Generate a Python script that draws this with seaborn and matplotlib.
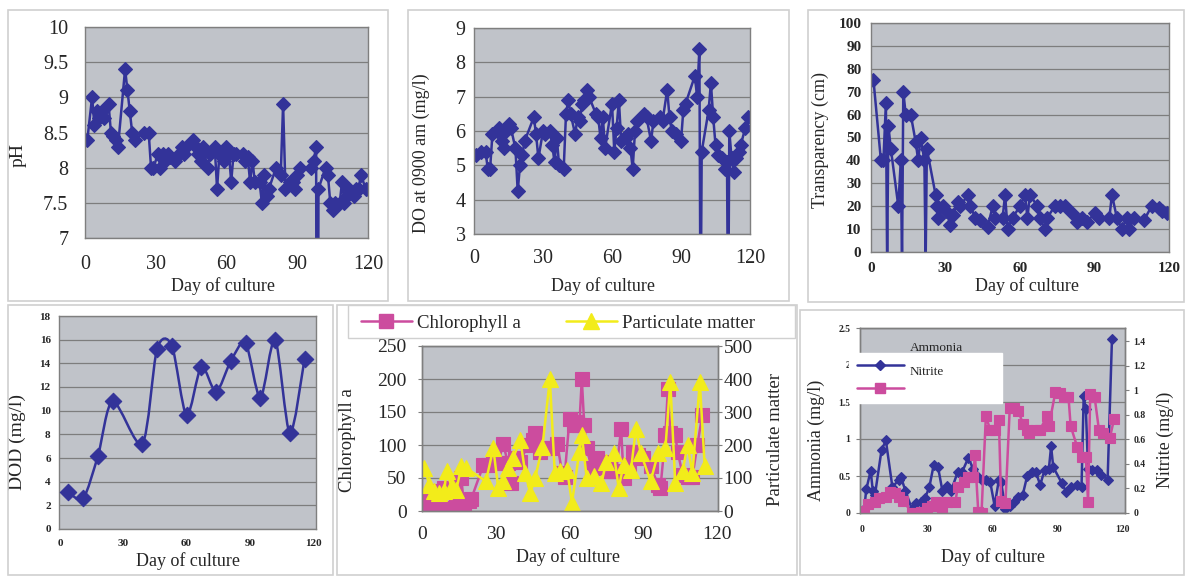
import numpy as np
import matplotlib
matplotlib.use("Agg")
import matplotlib.pyplot as plt
import matplotlib.transforms as mtransforms
from matplotlib.patches import Rectangle, PathPatch
from matplotlib.path import Path
from matplotlib.lines import Line2D
from matplotlib.ticker import FuncFormatter
import seaborn as sns

sns.set_style("white")
plt.rcParams["font.family"] = ["Liberation Serif", "DejaVu Serif"]

# ---- data ----
ph_day = [1, 3, 4, 5, 6, 7, 8, 10, 11, 12, 13, 14, 17, 18, 19, 20, 21, 25, 27, 28,
          29, 31, 32, 33, 34, 35, 36, 38, 40, 41, 42, 43, 46, 47, 48, 49, 50, 52, 53, 55,
          56, 57, 59, 60, 61, 62, 63, 64, 67, 68, 69, 70, 71, 72, 74, 75, 76, 77, 78, 81,
          83, 84, 85, 87, 88, 89, 90, 91, 96, 97, 98, 98.5, 99, 102, 103, 104, 105, 106, 108, 109,
          110, 111, 112, 114, 115, 116, 117, 119, 120]
ph_val = [8.4, 9.0, 8.6, 8.8, 8.7, 8.8, 8.7, 8.9, 8.5, 8.45, 8.4, 8.3, 9.4, 9.1, 8.8, 8.5, 8.4, 8.5, 8.5, 8.0,
          8.0, 8.2, 8.0, 8.2, 8.1, 8.2, 8.15, 8.1, 8.2, 8.3, 8.2, 8.3, 8.4, 8.3, 8.2, 8.1, 8.3, 8.0, 8.2, 8.3,
          7.7, 8.2, 8.1, 8.3, 8.2, 7.8, 8.2, 8.2, 8.2, 8.1, 8.15, 7.8, 8.1, 7.8, 7.8, 7.5, 7.9, 7.6, 7.7, 8.0,
          7.9, 8.9, 7.7, 7.8, 7.8, 7.7, 7.9, 8.0, 8.0, 8.1, 8.3, 0.0, 7.7, 8.0, 7.9, 7.5, 7.4, 7.5, 7.5, 7.8,
          7.5, 7.6, 7.7, 7.6, 7.7, 7.7, 7.9, 7.7, 7.7]

do_day = [1, 3, 5, 6, 7, 8, 10, 11, 12, 13, 14, 15, 16, 18, 19, 20, 21, 22, 26, 27,
          28, 30, 31, 33, 34, 35, 36, 37, 39, 40, 41, 42, 44, 45, 46, 47, 48, 49, 50, 53,
          54, 55, 56, 57, 60, 61, 62, 63, 64, 66, 67, 68, 69, 70, 71, 74, 75, 77, 78, 81,
          82, 84, 85, 86, 88, 90, 91, 92, 96, 97, 98, 98.5, 99, 102, 103, 104, 105, 106, 108, 109,
          110, 110.5, 111, 112, 113, 114, 115, 116, 118, 119]
do_val = [5.3, 5.4, 5.4, 4.9, 4.9, 5.9, 6.0, 6.1, 5.7, 5.5, 6.0, 6.2, 6.1, 5.5, 4.25, 5.0, 5.3, 5.7, 6.4, 5.9,
          5.2, 6.0, 5.9, 6.0, 5.6, 5.1, 5.8, 5.0, 4.9, 6.5, 6.9, 6.5, 5.9, 6.4, 6.3, 6.8, 6.9, 7.2, 7.0, 6.5,
          6.4, 5.8, 6.4, 5.5, 6.8, 5.4, 6.1, 6.9, 5.7, 5.8, 5.9, 5.5, 4.9, 6.0, 6.3, 6.5, 6.4, 5.7, 6.3, 6.4,
          6.3, 7.2, 6.4, 6.0, 5.9, 5.7, 6.6, 6.8, 7.6, 7.0, 8.4, 0.0, 5.4, 6.6, 7.4, 6.4, 5.6, 5.3, 5.2, 4.9,
          5.1, 0.0, 6.0, 5.2, 4.8, 5.2, 5.4, 5.6, 6.1, 6.4]

tr_day = [1, 4, 5, 6, 6.5, 7, 8, 11, 12, 12.5, 13, 14, 16, 18, 19, 20, 21.5, 22, 22.5, 26,
          26.5, 27, 29, 30, 32, 33, 35, 36, 39, 40, 42, 44, 47, 49, 50, 53, 54, 55, 57, 60,
          62, 63, 64, 67, 68, 70, 71, 74, 76, 78, 81, 83, 85, 87, 90, 92, 96, 97, 99, 101,
          103, 104, 106, 110, 113, 116, 117, 119]
tr_val = [75, 40, 40, 65, -5, 55, 45, 20, 40, -5, 70, 60, 60, 48, 40, 50, 40, -5, 45, 25,
          20, 15, 20, 18, 12, 16, 22, 20, 25, 20, 15, 14, 11, 20, 15, 15, 25, 10, 15, 20,
          25, 15, 25, 20, 15, 10, 15, 20, 20, 20, 17, 13, 15, 13, 17, 15, 15, 25, 15, 10,
          15, 10, 15, 14, 20, 19, 18, 17]

dod_day = [4, 11, 18, 25, 39, 46, 53, 60, 67, 74, 81, 88, 95, 102, 109, 116]
dod_val = [3.1, 2.6, 6.2, 10.8, 7.2, 15.2, 15.5, 9.6, 13.7, 11.6, 14.2, 15.7, 11.1, 16.0, 8.1, 14.4]

chl_day = [0.5, 2, 3, 4, 5, 6, 7, 8, 9, 10, 11, 13, 14, 15, 16, 17, 19, 20, 25, 27,
           29, 31, 33, 35, 36, 38, 40, 43, 45, 46, 48, 50, 53, 55, 57, 58, 60, 62, 63, 64,
           65, 66, 67, 69, 71, 73, 75, 77, 79, 81, 82, 84, 86, 88, 90, 93, 96, 97, 99, 100,
           101, 103, 104, 106, 108, 110, 112, 114]
chl_val = [18, 5, 0, 20, 0, 10, 30, 0, 35, 0, 5, 5, 10, 15, 50, 10, 15, 18, 70, 70,
           72, 72, 102, 72, 42, 80, 75, 100, 108, 118, 90, 95, 95, 102, 58, 52, 140, 130, 135, 130,
           200, 130, 95, 65, 80, 75, 65, 60, 60, 125, 50, 70, 90, 85, 80, 68, 40, 35, 115, 185,
           118, 115, 90, 55, 52, 52, 100, 145]

pm_day = [1, 3, 5, 7, 9, 10, 12, 14, 16, 18, 26, 29, 31, 33, 35, 37, 40, 42, 44, 46,
          49, 52, 54, 56, 59, 61, 64, 65, 67, 70, 73, 75, 78, 80, 82, 85, 87, 89, 93, 96,
          99, 101, 103, 106, 108, 110, 113, 115]
pm_val = [130, 80, 60, 55, 60, 120, 75, 65, 135, 130, 90, 190, 70, 90, 130, 160, 215, 115, 55, 100,
          195, 400, 115, 120, 125, 25, 180, 230, 100, 105, 85, 150, 175, 70, 140, 125, 250, 175, 90, 175,
          190, 390, 85, 120, 200, 115, 390, 135]

amm_day = [0, 1, 2, 4, 5, 6, 9, 11, 14, 17, 18, 20, 23, 25, 27, 29, 31, 33, 35, 37,
           39, 41, 44, 46, 49, 51, 53, 55, 57, 59, 61, 63, 64, 66, 68, 70, 72, 74, 76, 78,
           80, 82, 84, 86, 87, 88, 92, 94, 96, 99, 101, 102, 103, 104, 106, 108, 110, 113, 115]
amm_val = [0.0, 0.05, 0.32, 0.57, 0.3, 0.25, 0.85, 0.98, 0.35, 0.45, 0.48, 0.3, 0.05, 0.13, 0.15, 0.2, 0.35, 0.65, 0.62, 0.3,
           0.37, 0.3, 0.55, 0.55, 0.75, 0.6, 0.5, 0.45, 0.45, 0.42, 0.1, 0.45, 0.42, 0.05, 0.1, 0.15, 0.22, 0.25, 0.5, 0.55,
           0.55, 0.38, 0.58, 0.6, 0.9, 0.62, 0.4, 0.28, 0.35, 0.38, 0.35, 1.58, 1.4, 0.6, 0.58, 0.58, 0.52, 0.45, 2.35]

nit_day = [0, 1, 3, 6, 8, 11, 13, 15, 17, 19, 23, 25, 27, 30, 32, 34, 36, 37, 39, 43,
           44, 47, 49, 51, 52, 53.5, 55, 57, 59, 61, 63, 64, 66, 68, 70, 72, 74, 76, 77, 80,
           82, 85, 86, 89, 91, 93, 95, 96, 99, 101, 103, 104, 105, 107, 109, 111, 114, 116]
nit_val = [0.01, 0.02, 0.07, 0.09, 0.12, 0.13, 0.17, 0.16, 0.13, 0.1, 0.0, 0.0, 0.01, 0.04, 0.06, 0.09, 0.08, 0.01, 0.09, 0.09,
           0.21, 0.25, 0.29, 0.29, 0.47, 0.01, 0.0, 0.79, 0.68, 0.68, 0.76, 0.1, 0.08, 0.86, 0.86, 0.83, 0.73, 0.68, 0.65, 0.68,
           0.68, 0.79, 0.71, 0.99, 0.98, 0.95, 0.95, 0.71, 0.54, 0.46, 0.46, 0.09, 0.97, 0.95, 0.68, 0.65, 0.61, 0.77]

day_ticks = [0, 30, 60, 90, 120]

# ---- styling ----
BLUE = "#333399"
PINK = "#cc4c9e"
YELLOW = "#f2ec1a"
PLOT_BG = "#c0c3c9"
GRID = "#7d7d7d"
EDGE = "#7f7f7f"
W, H = 1185, 576

fig = plt.figure(figsize=(W / 100, H / 100), dpi=100)
fig.patch.set_facecolor("white")
# pixel coordinates measured from the top-left corner
px = mtransforms.Affine2D().scale(1 / W, -1 / H).translate(0, 1) + fig.transFigure

for b in [(8, 10, 388, 301), (408, 10, 789, 301), (808, 10, 1184, 302),
          (8, 305, 333, 575), (337, 305, 797, 575), (800, 310, 1184, 575)]:
    fig.add_artist(Rectangle((b[0], b[1]), b[2] - b[0], b[3] - b[1], transform=px,
                             fill=False, ec="#d0d0d0", lw=1.2))

fmt = FuncFormatter(lambda v, p: f"{v:g}")


def make_ax(x0, y0, x1, y1):
    ax = fig.add_axes([x0 / W, 1 - y1 / H, (x1 - x0) / W, (y1 - y0) / H])
    ax.set_facecolor(PLOT_BG)
    for s in ax.spines.values():
        s.set_color(EDGE)
        s.set_linewidth(1.0)
    ax.yaxis.grid(True, color=GRID, lw=0.9)
    ax.xaxis.grid(False)
    ax.set_axisbelow(True)
    ax.tick_params(direction="out", length=3, width=0.8, color=EDGE)
    return ax


def style_twin(ax):
    for s in ax.spines.values():
        s.set_color(EDGE)
        s.set_linewidth(1.0)
    ax.tick_params(direction="out", length=3, width=0.8, color=EDGE)


def line(ax, x, y, color, marker, ms):
    sns.lineplot(x=x, y=y, ax=ax, color=color, marker=marker, markersize=ms,
                 markeredgecolor=color, markeredgewidth=0.8, linewidth=1.8,
                 sort=False, estimator=None, legend=False)


def xlab(ax, text, pos, size=13):
    ax.set_xlabel(text, fontsize=size, va="center", ha="center")
    ax.xaxis.set_label_coords(pos[0], pos[1], transform=px)


def ylab(ax, text, pos, size=13):
    ax.set_ylabel(text, fontsize=size, va="center", ha="center")
    ax.yaxis.set_label_coords(pos[0], pos[1], transform=px)


def bold(ax):
    plt.setp(ax.get_xticklabels() + ax.get_yticklabels(), fontweight="bold")


def smooth_path(x, y):
    p = np.column_stack([x, y]).astype(float)
    ext = np.vstack([p[0], p, p[-1]])
    verts, codes = [p[0]], [Path.MOVETO]
    for i in range(len(p) - 1):
        p0, p1, p2, p3 = ext[i], ext[i + 1], ext[i + 2], ext[i + 3]
        verts += [p1 + (p2 - p0) / 7, p2 - (p3 - p1) / 7, p2]
        codes += [Path.CURVE4] * 3
    return Path(verts, codes)


# ---- pH ----
ax1 = make_ax(85, 27, 368, 238)
line(ax1, ph_day, ph_val, BLUE, "D", 7.4)
ax1.set_xlim(0, 120)
ax1.set_ylim(7, 10)
ax1.set_xticks(day_ticks)
ax1.set_yticks(np.arange(7, 10.01, 0.5))
ax1.yaxis.set_major_formatter(fmt)
ax1.tick_params(labelsize=14.5)
ax1.tick_params(axis="x", pad=9)
ax1.tick_params(axis="y", pad=9)
xlab(ax1, "Day of culture", (223, 286))
ylab(ax1, "pH", (18, 155), 14)

# ---- DO ----
ax2 = make_ax(474, 28, 750, 234)
line(ax2, do_day, do_val, BLUE, "D", 7.4)
ax2.set_xlim(0, 120)
ax2.set_ylim(3, 9)
ax2.set_xticks(day_ticks)
ax2.set_yticks(range(3, 10))
ax2.tick_params(labelsize=14.5)
ax2.tick_params(axis="x", pad=8)
ax2.tick_params(axis="y", pad=3)
xlab(ax2, "Day of culture", (603, 286))
ylab(ax2, "DO at 0900 am (mg/l)", (421, 153))

# ---- Transparency ----
ax3 = make_ax(871, 23, 1169, 252)
line(ax3, tr_day, tr_val, BLUE, "D", 7.4)
ax3.set_xlim(0, 120)
ax3.set_ylim(0, 100)
ax3.set_xticks(day_ticks)
ax3.set_yticks(range(0, 101, 10))
ax3.tick_params(labelsize=11)
ax3.tick_params(axis="x", pad=4)
ax3.tick_params(axis="y", pad=4)
bold(ax3)
xlab(ax3, "Day of culture", (1027, 286))
ylab(ax3, "Transparency (cm)", (820, 140))

# ---- DOD ----
ax4 = make_ax(59, 316, 316, 529)
ax4.add_patch(PathPatch(smooth_path(dod_day, dod_val), fill=False, ec=BLUE, lw=1.8))
sns.scatterplot(x=dod_day, y=dod_val, ax=ax4, marker="D", s=70, color=BLUE,
                edgecolor=BLUE, linewidth=0.8, zorder=3, legend=False)
ax4.set_xlim(-0.5, 121.4)
ax4.set_ylim(0, 18)
ax4.set_xticks(day_ticks)
ax4.set_yticks(range(0, 19, 2))
ax4.tick_params(labelsize=8)
ax4.tick_params(axis="x", pad=4)
ax4.tick_params(axis="y", pad=3)
bold(ax4)
xlab(ax4, "Day of culture", (188, 561))
ylab(ax4, "DOD (mg/l)", (17, 442), 14)

# ---- Chlorophyll a / particulate matter ----
ax5 = make_ax(422, 346, 718, 511)
line(ax5, chl_day, chl_val, PINK, "s", 9.5)
ax5.set_xlim(0, 120.4)
ax5.set_ylim(0, 250)
ax5.set_xticks(day_ticks)
ax5.set_yticks(range(0, 251, 50))
ax5.tick_params(labelsize=14)
ax5.tick_params(axis="x", pad=8)
ax5.tick_params(axis="y", pad=8)
ax5b = ax5.twinx()
style_twin(ax5b)
line(ax5b, pm_day, pm_val, YELLOW, "^", 11)
ax5b.set_ylim(0, 500)
ax5b.set_yticks(range(0, 501, 100))
ax5b.tick_params(labelsize=14, pad=1)
xlab(ax5, "Day of culture", (568, 557))
ylab(ax5, "Chlorophyll a", (347, 440), 13.5)
ylab(ax5b, "Particulate matter", (775, 440), 13.5)

fig.add_artist(Rectangle((348, 305), 447, 33, transform=px, fc="white", ec="#d0d0d0", lw=1.0))
h_chl = Line2D([], [], color=PINK, marker="s", ms=9.5, mec=PINK, lw=1.8)
h_pm = Line2D([], [], color=YELLOW, marker="^", ms=11, mec=YELLOW, lw=1.8)
fig.legend([h_chl, h_pm], ["Chlorophyll a", "Particulate matter"], ncol=2,
           loc="center left", bbox_to_anchor=(361, 323), bbox_transform=px,
           frameon=False, fontsize=13.5, handlelength=2.7, handletextpad=0.3,
           columnspacing=2.4, borderpad=0, borderaxespad=0)

# ---- Ammonia / nitrite ----
ax6 = make_ax(860, 328, 1125, 513)
line(ax6, amm_day, amm_val, BLUE, "D", 5.6)
ax6.set_xlim(-0.9, 121)
ax6.set_ylim(0, 2.5)
ax6.set_xticks(day_ticks)
ax6.set_yticks(np.arange(0, 2.51, 0.5))
ax6.yaxis.set_major_formatter(fmt)
ax6.tick_params(labelsize=7)
ax6.tick_params(axis="x", pad=6)
ax6.tick_params(axis="y", pad=4)
bold(ax6)
ax6b = ax6.twinx()
style_twin(ax6b)
line(ax6b, nit_day, nit_val, PINK, "s", 7.5)
ax6b.set_ylim(0, 1.51)
ax6b.set_yticks(np.arange(0, 1.41, 0.2))
ax6b.yaxis.set_major_formatter(fmt)
ax6b.tick_params(labelsize=7, pad=3)
plt.setp(ax6b.get_yticklabels(), fontweight="bold")
xlab(ax6, "Day of culture", (993, 557))
ylab(ax6, "Ammonia (mg/l)", (816, 440))
ylab(ax6b, "Nitrite (mg/l)", (1165, 440))

h_amm = Line2D([], [], color=BLUE, marker="D", ms=5.6, mec=BLUE, lw=1.8)
h_nit = Line2D([], [], color=PINK, marker="s", ms=7.5, mec=PINK, lw=1.8)
ax6b.legend([h_amm, h_nit], ["", ""], loc="upper left", bbox_to_anchor=(849, 353),
            bbox_transform=px, fontsize=9, handlelength=3.8, handletextpad=7.2,
            borderpad=0.6, labelspacing=0.9, borderaxespad=0, frameon=True,
            fancybox=False, facecolor="white", edgecolor="white", framealpha=1)
fig.text(936, 348, "Ammonia", transform=px, fontsize=9.5, ha="center", va="center")
fig.text(910, 372, "Nitrite", transform=px, fontsize=9.5, ha="left", va="center")

fig.savefig("out.png", dpi=100, facecolor="white")
